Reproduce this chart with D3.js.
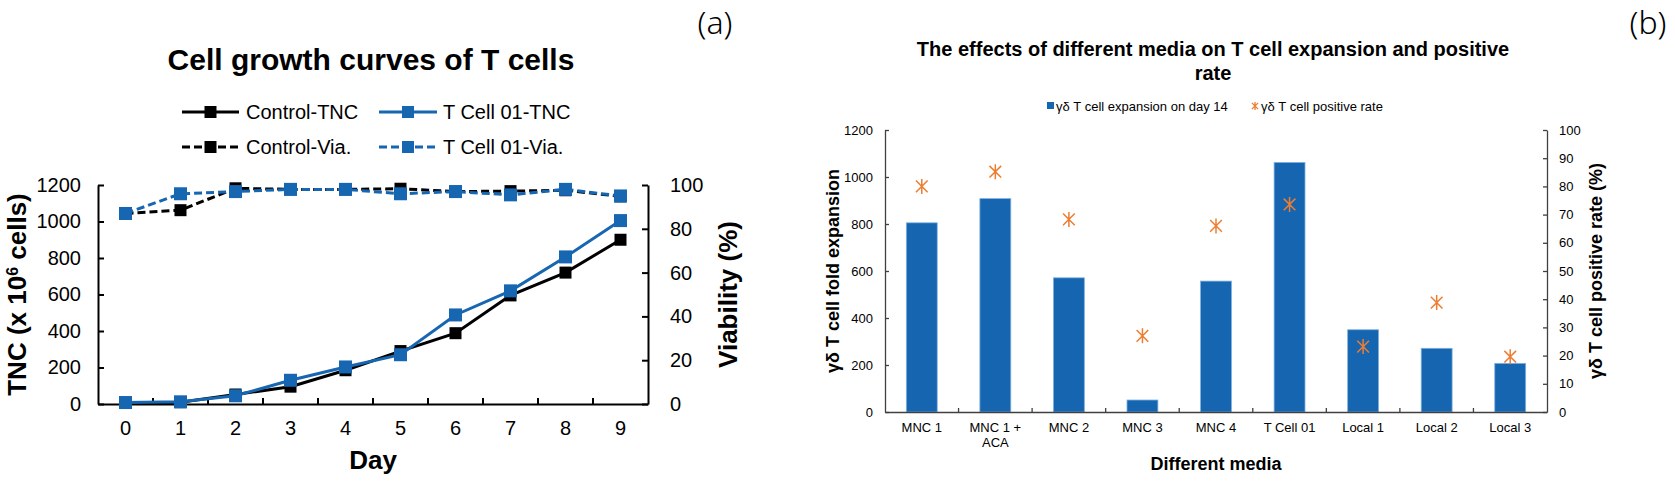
<!DOCTYPE html>
<html>
<head>
<meta charset="utf-8">
<script src="https://cdn.jsdelivr.net/npm/d3@7"></script>
<style>
  html, body { margin: 0; padding: 0; background: #fff; }
  svg { display: block; }
  text { font-family: "Liberation Sans", Arial, sans-serif; fill: #000; }
</style>
</head>
<body>
<svg id="chart" width="1675" height="481"></svg>
<script>
// ---------- Data: panel (a) ----------
const days = [0, 1, 2, 3, 4, 5, 6, 7, 8, 9];
const controlTNC = [6, 10, 52, 95, 185, 290, 388, 595, 720, 900];
const tcellTNC = [8, 12, 45, 130, 203, 270, 488, 620, 806, 1005];
const controlVia = [87, 88.5, 98.5, 98, 98, 98.3, 97, 97.2, 97.6, 94.8];
const tcellVia = [87, 96, 97, 98, 98, 96, 97, 95.5, 98, 95];
const tncTicks = [0, 200, 400, 600, 800, 1000, 1200];
const viaTicks = [0, 20, 40, 60, 80, 100];

// ---------- Data: panel (b) ----------
const media = ["MNC 1", "MNC 1 + ACA", "MNC 2", "MNC 3", "MNC 4", "T Cell 01", "Local 1", "Local 2", "Local 3"];
const expansion = [805, 908, 571, 51, 557, 1062, 350, 271, 207];
const positiveRate = [80, 85.2, 68.3, 27, 66, 73.6, 23.2, 38.8, 19.6];
const foldTicks = [0, 200, 400, 600, 800, 1000, 1200];
const rateTicks = [0, 10, 20, 30, 40, 50, 60, 70, 80, 90, 100];

const BLUE = "#1766b1";
const BAR = "#1565b0";
const ORANGE = "#ed7d31";
const fmt = d3.format("d");

const svg = d3.select("#chart");

// ================= Panel (a) =================
(function panelA() {
  const g = svg.append("g");
  const x = d3.scaleBand().domain(days).range([98, 648]);
  const yL = d3.scaleLinear().domain([0, 1200]).range([404, 185]);
  const yR = d3.scaleLinear().domain([0, 100]).range([404, 185]);
  const cx = d => x(d) + x.bandwidth() / 2;

  const left = g.append("g").attr("transform", "translate(98,0)")
    .call(d3.axisLeft(yL).tickValues(tncTicks).tickFormat(fmt).tickSizeInner(-6).tickSizeOuter(0).tickPadding(17));
  const right = g.append("g").attr("transform", "translate(648,0)")
    .call(d3.axisRight(yR).tickValues(viaTicks).tickFormat(fmt).tickSizeInner(-6).tickSizeOuter(0).tickPadding(22));
  const bottom = g.append("g").attr("transform", "translate(0,404)")
    .call(d3.axisBottom(x).tickSize(0).tickPadding(17));
  [left, right, bottom].forEach(a => {
    a.select(".domain").attr("stroke", "#000").attr("stroke-width", 2);
    a.selectAll(".tick line").attr("stroke", "#000").attr("stroke-width", 2);
    a.selectAll("text").style("font-size", "20px").attr("fill", "#000");
  });
  g.append("g").selectAll("line").data(days.slice(1)).join("line")
    .attr("x1", d => x(d)).attr("x2", d => x(d))
    .attr("y1", 404).attr("y2", 398)
    .attr("stroke", "#000").attr("stroke-width", 2);

  const lineL = d3.line().x((v, i) => cx(days[i])).y(v => yL(v));
  const lineR = d3.line().x((v, i) => cx(days[i])).y(v => yR(v));
  const series = [
    { vals: controlVia, line: lineR, scale: yR, color: "#000", dash: "8,4", size: 12 },
    { vals: tcellVia, line: lineR, scale: yR, color: BLUE, dash: "8,4", size: 13 },
    { vals: controlTNC, line: lineL, scale: yL, color: "#000", dash: null, size: 12 },
    { vals: tcellTNC, line: lineL, scale: yL, color: BLUE, dash: null, size: 13 }
  ];
  series.forEach(s => {
    g.append("path").attr("d", s.line(s.vals)).attr("fill", "none")
      .attr("stroke", s.color).attr("stroke-width", 3)
      .attr("stroke-dasharray", s.dash);
    g.append("g").selectAll("rect").data(s.vals).join("rect")
      .attr("x", (v, i) => cx(days[i]) - s.size / 2)
      .attr("y", v => s.scale(v) - s.size / 2)
      .attr("width", s.size).attr("height", s.size)
      .attr("fill", s.color);
  });

  g.append("text").attr("x", 371).attr("y", 70).attr("text-anchor", "middle")
    .style("font-size", "30px").style("font-weight", "bold").text("Cell growth curves of T cells");

  const legend = [
    { label: "Control-TNC", color: "#000", dash: null, x0: 182, x1: 239, tx: 246, y: 112 },
    { label: "T Cell 01-TNC", color: BLUE, dash: null, x0: 379, x1: 437, tx: 443, y: 112 },
    { label: "Control-Via.", color: "#000", dash: "8,4", x0: 182, x1: 239, tx: 246, y: 147 },
    { label: "T Cell 01-Via.", color: BLUE, dash: "8,4", x0: 379, x1: 437, tx: 443, y: 147 }
  ];
  legend.forEach(l => {
    g.append("line").attr("x1", l.x0).attr("x2", l.x1).attr("y1", l.y).attr("y2", l.y)
      .attr("stroke", l.color).attr("stroke-width", 3).attr("stroke-dasharray", l.dash);
    const m = (l.x0 + l.x1) / 2;
    g.append("rect").attr("x", m - 6).attr("y", l.y - 6).attr("width", 12).attr("height", 12).attr("fill", l.color);
    g.append("text").attr("x", l.tx).attr("y", l.y + 7).style("font-size", "20px").text(l.label);
  });

  const yt = g.append("text").attr("transform", "translate(26,294.5) rotate(-90)")
    .attr("text-anchor", "middle").style("font-size", "26px").style("font-weight", "bold");
  yt.append("tspan").text("TNC (x 10");
  yt.append("tspan").attr("baseline-shift", "super").style("font-size", "16px").text("6");
  yt.append("tspan").text(" cells)");
  g.append("text").attr("transform", "translate(737,294.5) rotate(-90)")
    .attr("text-anchor", "middle").style("font-size", "26px").style("font-weight", "bold").text("Viability (%)");
  g.append("text").attr("x", 373).attr("y", 469).attr("text-anchor", "middle")
    .style("font-size", "26px").style("font-weight", "bold").text("Day");

  g.append("text").attr("x", 715).attr("y", 34).attr("text-anchor", "middle")
    .style("font-family", "'Noto Sans', sans-serif").style("font-weight", "300").style("font-size", "32px").text("(a)");
})();

// ================= Panel (b) =================
(function panelB() {
  const g = svg.append("g");
  const x = d3.scaleBand().domain(media).range([885, 1547]).paddingInner(0.58).paddingOuter(0.29);
  const yL = d3.scaleLinear().domain([0, 1200]).range([412, 130]);
  const yR = d3.scaleLinear().domain([0, 100]).range([412, 130]);
  const cx = d => x(d) + x.bandwidth() / 2;
  const AX = "#404040";

  g.append("g").selectAll("rect").data(media).join("rect")
    .attr("x", d => x(d)).attr("width", x.bandwidth())
    .attr("y", (d, i) => yL(expansion[i])).attr("height", (d, i) => yL(0) - yL(expansion[i]))
    .attr("fill", BAR).attr("stroke", "#7fb0e0").attr("stroke-width", 0.8);

  const left = g.append("g").attr("transform", "translate(885,0)")
    .call(d3.axisLeft(yL).tickValues(foldTicks).tickFormat(fmt).tickSizeInner(-4).tickSizeOuter(0).tickPadding(12));
  const right = g.append("g").attr("transform", "translate(1547,0)")
    .call(d3.axisRight(yR).tickValues(rateTicks).tickFormat(fmt).tickSizeInner(-4).tickSizeOuter(0).tickPadding(12));
  const bottom = g.append("g").attr("transform", "translate(0,412)")
    .call(d3.axisBottom(x).tickSize(0).tickPadding(11));
  [left, right, bottom].forEach(a => {
    a.select(".domain").attr("stroke", AX).attr("stroke-width", 1.3);
    a.selectAll(".tick line").attr("stroke", AX).attr("stroke-width", 1.3);
    a.selectAll("text").style("font-size", "13px").attr("fill", "#222");
  });
  bottom.selectAll(".tick text").each(function (d) {
    if (d.includes(" + ")) {
      const parts = d.split(" + ");
      const t = d3.select(this).text(null);
      t.append("tspan").attr("x", 0).text(parts[0] + " +");
      t.append("tspan").attr("x", 0).attr("dy", "1.15em").text(parts[1]);
    }
  });
  const step = x.step();
  const bounds = media.slice(1).map(d => x(d) - step * x.paddingInner() / 2);
  g.append("g").selectAll("line").data(bounds).join("line")
    .attr("x1", d => d).attr("x2", d => d).attr("y1", 412).attr("y2", 408)
    .attr("stroke", AX).attr("stroke-width", 1.3);

  const star = (sz) => {
    const r = sz / 2, d = r * 0.78;
    return `M0,${-r}L0,${r}M${-d},${-d}L${d},${d}M${-d},${d}L${d},${-d}`;
  };
  g.append("g").selectAll("path").data(positiveRate).join("path")
    .attr("transform", (v, i) => `translate(${cx(media[i])},${yR(v)})`)
    .attr("d", star(15)).attr("fill", "none").attr("stroke", ORANGE).attr("stroke-width", 1.5);

  const tt = g.append("text").attr("x", 1213).attr("y", 56).attr("text-anchor", "middle")
    .style("font-size", "20px").style("font-weight", "bold");
  tt.append("tspan").attr("x", 1213).text("The effects of different media on T cell expansion and positive");
  tt.append("tspan").attr("x", 1213).attr("dy", 24).text("rate");

  g.append("rect").attr("x", 1047).attr("y", 102).attr("width", 7).attr("height", 7).attr("fill", BAR);
  g.append("text").attr("x", 1056).attr("y", 110.5).style("font-size", "13px").attr("fill", "#222")
    .text("γδ T cell expansion on day 14");
  g.append("path").attr("transform", "translate(1255,106)").attr("d", star(8))
    .attr("fill", "none").attr("stroke", ORANGE).attr("stroke-width", 1.3);
  g.append("text").attr("x", 1261).attr("y", 110.5).style("font-size", "13px").attr("fill", "#222")
    .text("γδ T cell positive rate");

  g.append("text").attr("transform", "translate(839,271) rotate(-90)").attr("text-anchor", "middle")
    .style("font-size", "18px").style("font-weight", "bold").text("γδ T cell fold expansion");
  g.append("text").attr("transform", "translate(1602,271) rotate(-90)").attr("text-anchor", "middle")
    .style("font-size", "18px").style("font-weight", "bold").text("γδ T cell positive rate (%)");
  g.append("text").attr("x", 1216).attr("y", 470).attr("text-anchor", "middle")
    .style("font-size", "18px").style("font-weight", "bold").text("Different media");

  g.append("text").attr("x", 1648).attr("y", 34).attr("text-anchor", "middle")
    .style("font-family", "'Noto Sans', sans-serif").style("font-weight", "300").style("font-size", "32px").text("(b)");
})();
</script>
</body>
</html>
